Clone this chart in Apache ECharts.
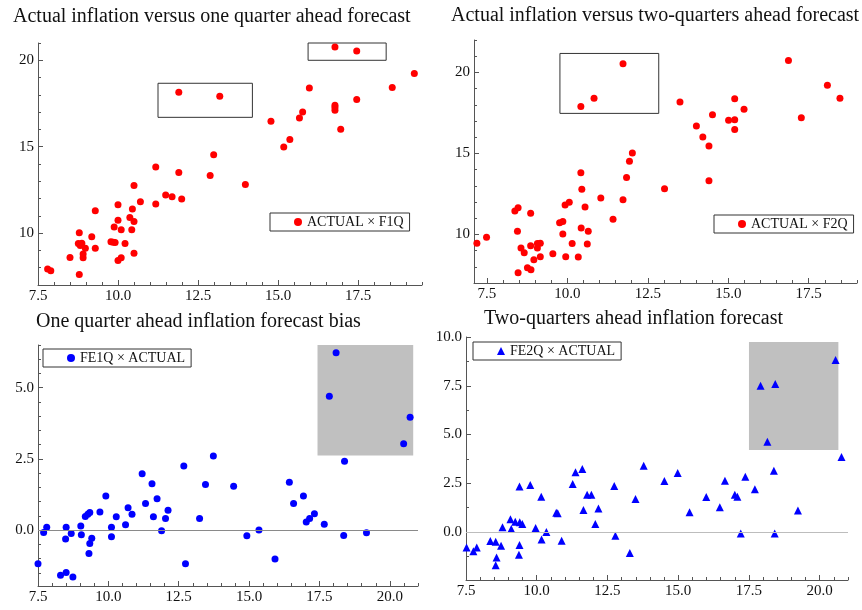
<!DOCTYPE html>
<html>
<head>
<meta charset="utf-8">
<title>Inflation forecasts</title>
<script src="https://cdn.jsdelivr.net/npm/echarts@6/dist/echarts.min.js"></script>
<style>
  html, body { margin: 0; padding: 0; background: #fff; }
  #chart { width: 862px; height: 610px; }
</style>
</head>
<body>
<div id="chart"></div>
<script>
// Actual inflation against the one-quarter-ahead forecast (x = F1Q, y = ACTUAL)
const f1q = [7.80, 7.90, 8.50, 8.79, 8.79, 8.76, 8.87, 8.82, 8.91, 8.91, 8.98, 9.18, 9.29, 9.29, 9.78,
  9.91, 9.85, 9.88, 10.00, 10.00, 10.00, 10.10, 10.10, 10.22, 10.37, 10.43, 10.45, 10.50, 10.50, 10.50,
  10.70, 11.18, 11.18, 11.49, 11.69, 11.90, 11.99, 11.90, 12.88, 12.99, 13.18, 13.98, 14.78, 15.18, 15.37,
  15.67, 15.77, 15.98, 16.78, 16.78, 16.78, 16.78, 16.96, 17.46, 17.46, 18.57, 19.26];
const actualVsF1q = [7.92, 7.82, 8.59, 7.61, 10.02, 9.40, 9.42, 9.29, 8.80, 8.57, 9.13, 9.79, 9.13, 11.29, 9.50,
  9.46, 9.48, 10.36, 11.64, 10.75, 8.42, 8.57, 10.19, 9.40, 10.91, 10.19, 11.40, 10.67, 12.76, 8.83,
  11.81, 13.82, 11.68, 12.21, 12.10, 13.51, 11.97, 18.15, 13.33, 14.53, 17.92, 12.81, 16.47, 14.99, 15.42,
  16.66, 17.01, 18.40, 20.77, 17.40, 17.27, 17.11, 16.01, 20.54, 17.73, 18.42, 19.23];

// Actual inflation against the two-quarters-ahead forecast (x = F2Q, y = ACTUAL)
const f2q = [16.87, 11.73, 18.08, 18.47, 10.83, 15.20, 13.50, 10.42, 15.49, 17.27, 14.51, 15.01, 15.20, 14.01, 15.20,
  14.21, 14.40, 12.02, 11.93, 11.84, 14.40, 10.42, 13.02, 10.45, 11.04, 11.73, 10.06, 9.93, 10.55, 8.47,
  8.37, 8.86, 11.42, 9.86, 9.76, 10.43, 8.45, 10.65, 9.86, 7.49, 7.19, 10.15, 10.62, 9.07, 9.16,
  8.86, 8.56, 9.07, 8.66, 9.55, 9.16, 9.95, 10.34, 8.96, 8.76, 8.87, 8.47];
const actualVsF2q = [20.74, 20.54, 19.20, 18.41, 18.41, 18.38, 18.17, 17.90, 17.72, 17.20, 17.39, 17.04, 17.08, 16.69, 16.48,
  16.01, 15.45, 15.02, 14.52, 13.52, 13.31, 13.81, 12.82, 12.78, 12.24, 12.14, 11.98, 11.81, 11.69, 11.65,
  11.44, 11.30, 10.93, 10.80, 10.72, 10.39, 10.20, 10.20, 10.02, 9.83, 9.46, 9.44, 9.40, 9.44, 9.46,
  9.30, 9.16, 9.16, 8.87, 8.81, 8.62, 8.62, 8.60, 8.44, 7.94, 7.82, 7.64];

// One-quarter-ahead forecast error against actual inflation (x = ACTUAL, y = FE1Q)
const actualFe1q = [18.09, 17.85, 20.72, 20.49, 13.73, 18.39, 12.68, 11.20, 11.55, 13.45, 14.45, 16.43, 16.93, 9.91,
  11.73, 11.32, 16.58, 10.70, 12.12, 9.70, 9.34, 9.27, 10.84, 17.32, 9.18, 10.28, 11.60, 12.03, 13.24, 17.15,
  17.03, 17.67, 10.61, 9.02, 7.81, 8.50, 10.11, 15.35, 11.89, 7.70, 8.68, 19.17, 9.04, 18.36, 14.92,
  10.11, 9.41, 8.48, 9.34, 9.31, 15.92, 7.50, 12.74, 8.50, 8.30, 8.74];
const fe1q = [6.23, 4.70, 3.96, 3.03, 2.60, 2.42, 2.25, 1.98, 1.63, 1.60, 1.54, 1.68, 1.20, 1.20,
  1.10, 0.94, 0.94, 0.79, 0.70, 0.64, 0.62, 0.56, 0.56, 0.58, 0.48, 0.47, 0.47, 0.41, 0.41, 0.41,
  0.29, 0.21, 0.19, 0.15, 0.10, 0.10, 0.10, 0.01, -0.02, -0.08, -0.12, -0.09, -0.16, -0.19, -0.20,
  -0.23, -0.28, -0.31, -0.47, -0.82, -1.01, -1.18, -1.18, -1.49, -1.58, -1.64];

// Two-quarters-ahead forecast error against actual inflation (x = ACTUAL, y = FE2Q)
const actualFe2q = [20.56, 17.91, 18.43, 18.15, 20.77, 13.78, 11.61, 11.37, 14.98, 18.38, 17.37, 14.51, 16.65, 11.27, 12.74,
  9.39, 9.77, 17.71, 11.78, 11.93, 17.00, 17.09, 10.16, 15.99, 13.49, 16.47, 12.18, 11.65, 19.23, 15.40,
  10.69, 10.74, 9.07, 9.24, 9.40, 9.49, 12.07, 8.79, 9.10, 9.96, 10.34, 17.21, 18.41, 12.78, 10.17,
  10.88, 8.36, 8.55, 8.74, 9.39, 7.52, 7.88, 7.76, 13.29, 9.37, 8.58, 8.55];
const fe2q = [8.82, 7.50, 7.59, 4.63, 3.85, 3.40, 3.23, 3.06, 3.03, 3.14, 2.84, 2.62, 2.63, 2.46, 2.36,
  2.34, 2.41, 2.19, 1.91, 1.91, 1.91, 1.81, 1.81, 1.79, 1.69, 1.27, 1.20, 1.13, 1.11, 1.01,
  0.99, 0.96, 0.65, 0.53, 0.50, 0.41, 0.41, 0.24, 0.15, 0.21, 0.00, -0.07, -0.07, -0.19, -0.38,
  -0.45, -0.46, -0.50, -0.70, -0.67, -0.79, -0.79, -0.99, -1.08, -1.16, -1.30, -1.71];

// Tick values
const ticksLevelX = [7.5, 10.0, 12.5, 15.0, 17.5];
const ticksLevelY = [10, 15, 20];
const ticksErrorX = [7.5, 10.0, 12.5, 15.0, 17.5, 20.0];
const ticksFe1qY = [0.0, 2.5, 5.0];
const ticksFe2qY = [0.0, 2.5, 5.0, 7.5, 10.0];

// Highlighted regions [x0, y0, x1, y1]
const boxesF1q = [[11.25, 16.7, 14.2, 18.67], [15.94, 20.0, 18.38, 21.0]];
const boxesF2q = [[9.77, 17.47, 12.84, 21.17]];
const shadeFe1q = [[17.43, 2.62, 20.83, 6.5]];
const shadeFe2q = [[17.5, 4.2, 20.66, 9.74]];

const SERIF = "'Liberation Serif', 'Times New Roman', serif";
const AXIS = '#555';
const TEXT = '#111';

const zip = (xs, ys) => xs.map((x, i) => [x, ys[i]]);
function steps(min, max, step, skip) {
  const out = [];
  const start = Math.ceil(min / step - 1e-9) * step;
  for (let v = start; v <= max + 1e-9; v += step) {
    const r = Math.round(v * 1000) / 1000;
    if (!skip.some(s => Math.abs(s - r) < 1e-6)) out.push(r);
  }
  return out;
}

const xAxes = [], yAxes = [];
// Adds a labelled major axis plus an overlaid minor-tick axis; returns the major axis index
function addAxis(dim, grid, min, max, majors, minorStep, decimals) {
  const list = dim === 'x' ? xAxes : yAxes;
  const position = dim === 'x' ? 'bottom' : 'left';
  const base = { type: 'value', gridIndex: grid, min, max, position, splitLine: { show: false } };
  const idx = list.length;
  list.push(Object.assign({}, base, {
    axisLine: { show: true, onZero: false, lineStyle: { color: AXIS, width: 1 } },
    axisTick: { show: true, inside: true, length: 5, customValues: majors, lineStyle: { color: AXIS } },
    axisLabel: {
      show: true, customValues: majors, margin: 4,
      formatter: v => Number(v).toFixed(decimals),
      color: TEXT, fontFamily: SERIF, fontSize: 15
    }
  }));
  list.push(Object.assign({}, base, {
    axisLine: { show: false, onZero: false },
    axisTick: { show: true, inside: true, length: 3, customValues: steps(min, max, minorStep, majors), lineStyle: { color: AXIS } },
    axisLabel: { show: false }
  }));
  return idx;
}

const grids = [
  { left: 38, top: 43, width: 384, height: 242 },
  { left: 474, top: 40, width: 383, height: 243 },
  { left: 38, top: 345, width: 380, height: 241 },
  { left: 466, top: 337, width: 382, height: 243 }
];

const x0 = addAxis('x', 0, 7.5, 19.5, ticksLevelX, 0.5, 1);
const y0 = addAxis('y', 0, 7, 21, ticksLevelY, 1, 0);
const x1 = addAxis('x', 1, 7.1, 19.0, ticksLevelX, 0.5, 1);
const y1 = addAxis('y', 1, 7, 22, ticksLevelY, 1, 0);
const x2 = addAxis('x', 2, 7.5, 21, ticksErrorX, 0.5, 1);
const y2 = addAxis('y', 2, -1.96, 6.5, ticksFe1qY, 0.5, 1);
const x3 = addAxis('x', 3, 7.5, 21, ticksErrorX, 0.5, 1);
const y3 = addAxis('y', 3, -2.46, 10, ticksFe2qY, 1.25, 1);

const areaData = boxes => boxes.map(b => [{ coord: [b[0], b[1]] }, { coord: [b[2], b[3]] }]);
const outlineArea = boxes => ({
  silent: true,
  itemStyle: { color: 'rgba(0,0,0,0)', borderColor: '#333', borderWidth: 1 },
  label: { show: false },
  data: areaData(boxes)
});
const shadeArea = boxes => ({
  silent: true,
  itemStyle: { color: '#c0c0c0', opacity: 1, borderWidth: 0 },
  label: { show: false },
  data: areaData(boxes)
});
const zeroLine = color => ({
  silent: true, symbol: ['none', 'none'], label: { show: false },
  lineStyle: { color, type: 'solid', width: 1 },
  emphasis: { disabled: true },
  data: [{ yAxis: 0 }]
});

const legendBase = {
  orient: 'horizontal', borderColor: '#333', borderWidth: 1,
  padding: [2, 6, 2, 24], itemWidth: 8, itemHeight: 8, selectedMode: false,
  textStyle: { fontFamily: SERIF, fontSize: 14, color: TEXT }
};
const titleStyle = { fontFamily: SERIF, fontSize: 20, fontWeight: 'normal', color: TEXT };

const option = {
  animation: false,
  backgroundColor: '#fff',
  title: [
    { text: 'Actual inflation versus one quarter ahead forecast', left: 13, top: 7, padding: 0, textStyle: titleStyle },
    { text: 'Actual inflation versus two-quarters ahead forecast', left: 451, top: 6, padding: 0, textStyle: titleStyle },
    { text: 'One quarter ahead inflation forecast bias', left: 36, top: 312, padding: 0, textStyle: titleStyle },
    { text: 'Two-quarters ahead inflation forecast', left: 484, top: 309, padding: 0, textStyle: titleStyle }
  ],
  legend: [
    Object.assign({}, legendBase, { data: ['ACTUAL × F1Q'], left: 270, top: 213 }),
    Object.assign({}, legendBase, { data: ['ACTUAL × F2Q'], left: 714, top: 215 }),
    Object.assign({}, legendBase, { data: ['FE1Q × ACTUAL'], left: 43, top: 349 }),
    Object.assign({}, legendBase, { data: ['FE2Q × ACTUAL'], left: 473, top: 342 })
  ],
  grid: grids,
  xAxis: xAxes,
  yAxis: yAxes,
  series: [
    {
      type: 'scatter', name: 'ACTUAL × F1Q', xAxisIndex: x0, yAxisIndex: y0,
      symbol: 'circle', symbolSize: 7, itemStyle: { color: '#ff0000', opacity: 1 },
      data: zip(f1q, actualVsF1q), markArea: outlineArea(boxesF1q)
    },
    {
      type: 'scatter', name: 'ACTUAL × F2Q', xAxisIndex: x1, yAxisIndex: y1,
      symbol: 'circle', symbolSize: 7, itemStyle: { color: '#ff0000', opacity: 1 },
      data: zip(f2q, actualVsF2q), markArea: outlineArea(boxesF2q)
    },
    {
      type: 'scatter', name: 'FE1Q × ACTUAL', xAxisIndex: x2, yAxisIndex: y2,
      symbol: 'circle', symbolSize: 7, itemStyle: { color: '#0000ff', opacity: 1 },
      data: zip(actualFe1q, fe1q), markArea: shadeArea(shadeFe1q), markLine: zeroLine('#8a8a8a')
    },
    {
      type: 'scatter', name: 'FE2Q × ACTUAL', xAxisIndex: x3, yAxisIndex: y3,
      symbol: 'triangle', symbolSize: 8, itemStyle: { color: '#0000ff', opacity: 1 },
      data: zip(actualFe2q, fe2q), markArea: shadeArea(shadeFe2q), markLine: zeroLine('#bdbdbd')
    }
  ]
};

const chart = echarts.init(document.getElementById('chart'), null, { renderer: 'canvas' });
chart.setOption(option);
</script>
</body>
</html>
